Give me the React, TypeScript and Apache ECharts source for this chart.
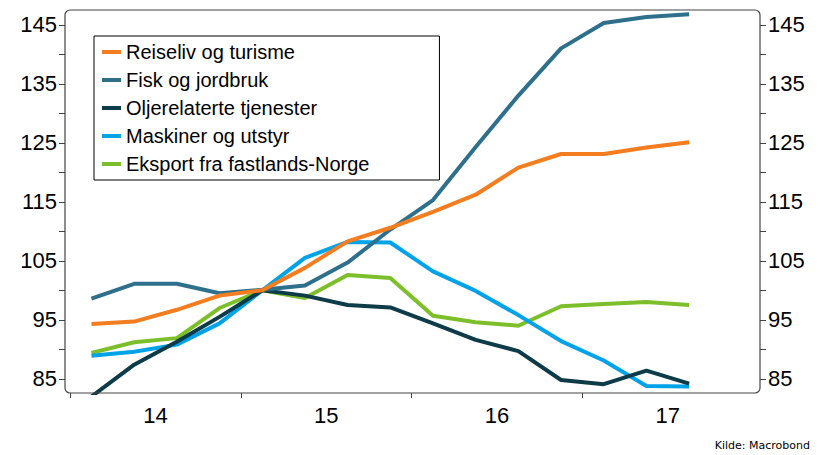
import React, { useEffect, useRef } from "react";
import * as echarts from "echarts";

// Quarter positions (decimal years, mid-quarter), 2014Q1 .. 2017Q3
const quarterPos = [
  2014.125, 2014.375, 2014.625, 2014.875,
  2015.125, 2015.375, 2015.625, 2015.875,
  2016.125, 2016.375, 2016.625, 2016.875,
  2017.125, 2017.375, 2017.625,
];

const seriesNames = [
  "Reiseliv og turisme",
  "Fisk og jordbruk",
  "Oljerelaterte tjenester",
  "Maskiner og utstyr",
  "Eksport fra fastlands-Norge",
];

const reiseliv = [94.3, 94.7, 96.7, 99.1, 100.0, 103.8, 108.3, 110.6, 113.3, 116.2, 120.8, 123.1, 123.1, 124.2, 125.1];
const fisk = [98.6, 101.1, 101.1, 99.5, 100.1, 100.8, 104.7, 110.3, 115.3, 124.3, 133.0, 141.0, 145.3, 146.3, 146.8];
const olje = [82.0, 87.4, 91.3, 95.5, 100.0, 99.1, 97.5, 97.1, 94.4, 91.6, 89.7, 84.8, 84.1, 86.4, 84.2];
const maskiner = [88.9, 89.6, 90.8, 94.4, 100.0, 105.5, 108.2, 108.1, 103.2, 99.9, 95.8, 91.4, 88.1, 83.8, 83.7];
const eksport = [89.4, 91.2, 91.9, 97.0, 100.0, 98.7, 102.6, 102.1, 95.7, 94.6, 94.0, 97.3, 97.7, 98.0, 97.5];

const colors = ["#F47D20", "#2E6F8C", "#0D3B48", "#00A3E8", "#7CBF2A"];

const yTicks = [85, 90, 95, 100, 105, 110, 115, 120, 125, 130, 135, 140, 145];
const yLabels = [85, 95, 105, 115, 125, 135, 145];
const yearTicks = [2014, 2015, 2016, 2017];
const yearLabels = [2014.5, 2015.5, 2016.5, 2017.5];

const W = 821;
const H = 455;
const gridL = 65, gridR = 61, gridT = 10, gridB = 62;
const axisColor = "#444";
const font = "'Liberation Sans', Arial, sans-serif";

export default function App() {
  const ref = useRef<HTMLDivElement>(null);
  useEffect(() => {
    document.body.style.margin = "0";
    const chart = echarts.init(ref.current!, null, { renderer: "svg" });
    const allData = [reiseliv, fisk, olje, maskiner, eksport];
    const order = [4, 3, 2, 1, 0];
    const series = order.map((k) => ({
      name: seriesNames[k],
      type: "line",
      yAxisIndex: 0,
      data: quarterPos.map((x, i) => [x, allData[k][i]]),
      showSymbol: false,
      symbol: "none",
      clip: true,
      lineStyle: { width: 4, color: colors[k] },
      itemStyle: { color: colors[k] },
    }));
    const yAxisCommon = {
      type: "value",
      min: 82.6,
      max: 147.5,
      splitLine: { show: false },
      axisLine: { show: false },
      axisTick: {
        show: true,
        length: 6,
        customValues: yTicks,
        lineStyle: { color: axisColor, width: 1 },
      },
      axisLabel: {
        customValues: yLabels,
        fontSize: 22,
        color: "#000",
        fontFamily: font,
        margin: 8,
      },
    };
    chart.setOption({
      animation: false,
      backgroundColor: "#fff",
      grid: { left: gridL, right: gridR, top: gridT, bottom: gridB, containLabel: false },
      legend: {
        data: seriesNames,
        orient: "vertical",
        left: 94,
        top: 36,
        padding: [6, 70, 6, 8],
        itemGap: 8,
        itemWidth: 19,
        itemHeight: 4,
        icon: "rect",
        borderColor: "#000",
        borderWidth: 1,
        backgroundColor: "#fff",
        selectedMode: false,
        textStyle: { fontSize: 20, color: "#000", fontFamily: font },
      },
      xAxis: {
        type: "value",
        min: 2013.97,
        max: 2018.04,
        splitLine: { show: false },
        axisLine: { show: false },
        axisTick: {
          show: true,
          length: 5,
          customValues: yearTicks,
          lineStyle: { color: axisColor, width: 1 },
        },
        axisLabel: {
          customValues: yearLabels,
          formatter: (v: number) => String(Math.floor(v)).slice(2),
          fontSize: 22,
          color: "#000",
          fontFamily: font,
          margin: 11,
        },
      },
      yAxis: [
        { ...yAxisCommon, position: "left" },
        { ...yAxisCommon, position: "right" },
      ],
      graphic: [
        {
          type: "rect",
          z: 100,
          silent: true,
          shape: { x: gridL, y: gridT, width: W - gridL - gridR, height: H - gridT - gridB, r: 5 },
          style: { fill: "none", stroke: axisColor, lineWidth: 1.2 },
        },
        {
          type: "text",
          right: 11,
          top: 440,
          style: { text: "Kilde: Macrobond", fontSize: 11, fill: "#000", fontFamily: "'DejaVu Sans', sans-serif" },
        },
      ],
      series,
    });
    return () => chart.dispose();
  }, []);
  return <div ref={ref} style={{ width: W, height: H }} />;
}
